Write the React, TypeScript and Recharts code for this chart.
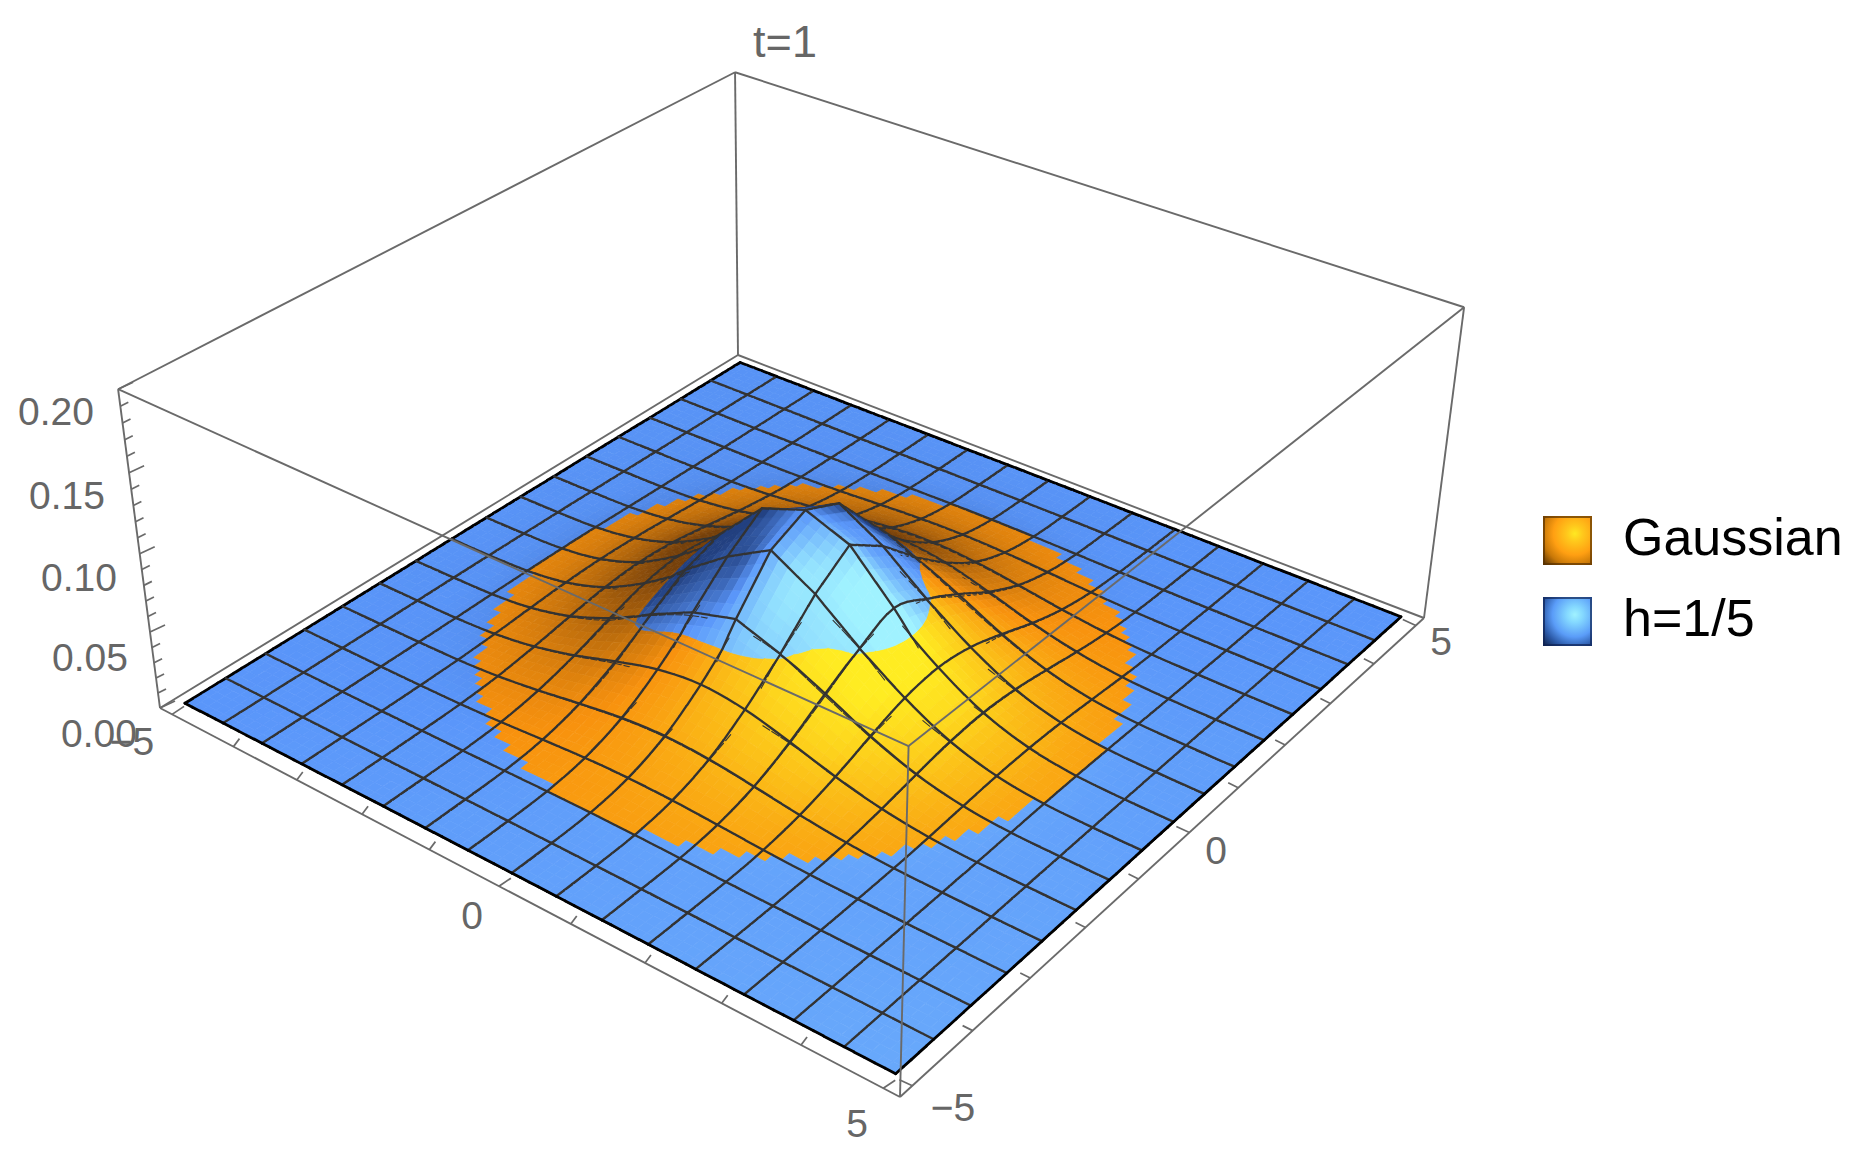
import React from "react";
import { ScatterChart, Scatter, XAxis, YAxis, Legend } from "recharts";

const W = 1867;
const H = 1154;
const FONT = "'Liberation Sans', Arial, sans-serif";

// surface heights, in units of 1e-4, on the 17 x 17 mesh (rows: x = -5..5, columns: y = -5..5)
const GAUSSIAN_E4 = [
  [0,0,0,.1,.3,.6,1,1.4,1.5,1.4,1,.6,.3,.1,0,0,0],
  [0,.1,.2,.6,1.4,2.7,4.5,6,6.6,6,4.5,2.7,1.4,.6,.2,.1,0],
  [0,.2,.7,2,4.9,9.8,16,21.3,23.5,21.3,16,9.8,4.9,2,.7,.2,0],
  [.1,.6,2,6,14.5,28.5,46.6,62.8,69.2,62.8,46.6,28.5,14.5,6,2,.6,.1],
  [.3,1.4,4.9,14.5,34.7,69.2,113,151,167,151,113,69.2,34.7,14.5,4.9,1.4,.3],
  [.6,2.7,9.8,28.5,69.2,137,224,300,331,300,224,137,69.2,28.5,9.8,2.7,.6],
  [1,4.5,16,46.6,113,224,365,488,539,488,365,224,113,46.6,16,4.5,1],
  [1.4,6,21.3,62.8,151,300,488,655,722,655,488,300,151,62.8,21.3,6,1.4],
  [1.5,6.6,23.5,69.2,167,331,539,722,796,722,539,331,167,69.2,23.5,6.6,1.5],
  [1.4,6,21.3,62.8,151,300,488,655,722,655,488,300,151,62.8,21.3,6,1.4],
  [1,4.5,16,46.6,113,224,365,488,539,488,365,224,113,46.6,16,4.5,1],
  [.6,2.7,9.8,28.5,69.2,137,224,300,331,300,224,137,69.2,28.5,9.8,2.7,.6],
  [.3,1.4,4.9,14.5,34.7,69.2,113,151,167,151,113,69.2,34.7,14.5,4.9,1.4,.3],
  [.1,.6,2,6,14.5,28.5,46.6,62.8,69.2,62.8,46.6,28.5,14.5,6,2,.6,.1],
  [0,.2,.7,2,4.9,9.8,16,21.3,23.5,21.3,16,9.8,4.9,2,.7,.2,0],
  [0,.1,.2,.6,1.4,2.7,4.5,6,6.6,6,4.5,2.7,1.4,.6,.2,.1,0],
  [0,0,0,.1,.3,.6,1,1.4,1.5,1.4,1,.6,.3,.1,0,0,0],
];
const H_FIFTH_E4 = [
  [2,2,3,3,4,5,5,6,6,6,5,5,4,3,3,2,2],
  [2,3,4,5,6,8,9.6,10.2,10.5,10.2,9.6,8,6,5,4,3,2],
  [3,4,5,7,9.7,12.5,17.2,21.6,23.5,21.6,17.2,12.5,9.7,7,5,4,3],
  [3,5,7,10.2,16,27.9,44.5,59.8,65.9,59.8,44.5,27.9,16,10.2,7,5,3],
  [4,6,9.7,16,33.5,65.9,108,145,160,145,108,65.9,33.5,16,9.7,6,4],
  [5,8,12.5,27.9,65.9,132,210,262,270,262,215,132,65.9,27.9,12.5,8,5],
  [5,9.6,17.2,44.5,108,210,372,510,590,492,350,215,108,44.5,17.2,9.6,5],
  [6,10.2,21.6,59.8,145,262,510,715,875,715,492,262,145,59.8,21.6,10.2,6],
  [6,10.5,23.5,65.9,160,270,590,875,980,875,590,270,160,65.9,23.5,10.5,6],
  [6,10.2,21.6,59.8,145,262,492,715,875,715,492,262,145,59.8,21.6,10.2,6],
  [5,9.6,17.2,44.5,108,215,350,492,590,492,350,215,108,44.5,17.2,9.6,5],
  [5,8,12.5,27.9,65.9,132,215,262,270,262,215,132,65.9,27.9,12.5,8,5],
  [4,6,9.7,16,33.5,65.9,108,145,160,145,108,65.9,33.5,16,9.7,6,4],
  [3,5,7,10.2,16,27.9,44.5,59.8,65.9,59.8,44.5,27.9,16,10.2,7,5,3],
  [3,4,5,7,9.7,12.5,17.2,21.6,23.5,21.6,17.2,12.5,9.7,7,5,4,3],
  [2,3,4,5,6,8,9.6,10.2,10.5,10.2,9.6,8,6,5,4,3,2],
  [2,2,3,3,4,5,5,6,6,6,5,5,4,3,3,2,2],
];
const Z_TICK_LABELS = ["0.00", "0.05", "0.10", "0.15", "0.20"];
const LEGEND_NAMES = ["Gaussian", "h=1/5"];

// camera calibration: where the box corners appear
const BOX_HALF = 5.2;
const BOX_TOP = 0.2;
const FLOOR = [[160, 708], [900, 1097], [1424, 618], [738, 355]]; // (x-,y-) (x+,y-) (x+,y+) (x-,y+)
const ROOF = [[117, 390], [907, 746], [1463, 308], [738, 71]];
const SURFACE_LIFT = 0.0018;

function makeCamera() {
  const [[x0, y0], [x1, y1], [x2, y2], [x3, y3]] = FLOOR;
  const dx1 = x1 - x2, dx2 = x3 - x2, sx = x0 - x1 + x2 - x3;
  const dy1 = y1 - y2, dy2 = y3 - y2, sy = y0 - y1 + y2 - y3;
  const det = dx1 * dy2 - dx2 * dy1;
  const g = (sx * dy2 - dx2 * sy) / det;
  const h = (dx1 * sy - sx * dy1) / det;
  const a = x1 - x0 + g * x1, b = x3 - x0 + h * x3, c = x0;
  const d = y1 - y0 + g * y1, e = y3 - y0 + h * y3, f = y0;
  const st = [[0, 0], [1, 0], [1, 1], [0, 1]];
  let app = 0, aqq = 0, apr = 0, aqr = 0, arr = 0, bp = 0, bq = 0, br = 0;
  st.forEach(([s, t], k) => {
    const [X, Y] = ROOF[k];
    const D = g * s + h * t + 1;
    const r1 = X * D - (a * s + b * t + c);
    const r2 = Y * D - (d * s + e * t + f);
    app += 1; aqq += 1; apr += -X; aqr += -Y; arr += X * X + Y * Y;
    bp += r1; bq += r2; br += -X * r1 - Y * r2;
  });
  const rr = (br - (apr * bp) / app - (aqr * bq) / aqq) / (arr - (apr * apr) / app - (aqr * aqr) / aqq);
  const p = (bp - apr * rr) / app;
  const q = (bq - aqr * rr) / aqq;
  return (xv: number, yv: number, zv: number): [number, number] => {
    const s = (xv + BOX_HALF) / (2 * BOX_HALF);
    const t = (yv + BOX_HALF) / (2 * BOX_HALF);
    const w = zv / BOX_TOP;
    const den = g * s + h * t + rr * w + 1;
    return [(a * s + b * t + p * w + c) / den, (d * s + e * t + q * w + f) / den];
  };
}
const project = makeCamera();

const SUB = 5;
const N = 16 * SUB;
function cr(p0: number, p1: number, p2: number, p3: number, t: number) {
  return 0.5 * (2 * p1 + (p2 - p0) * t + (2 * p0 - 5 * p1 + 4 * p2 - p3) * t * t + (3 * p1 - p0 - 3 * p2 + p3) * t * t * t);
}
function refine(table: number[][], facetedCap: boolean) {
  const at = (i: number, j: number) => table[Math.max(0, Math.min(16, i))][Math.max(0, Math.min(16, j))] / 1e4;
  const out: number[][] = [];
  for (let I = 0; I <= N; I++) {
    const row: number[] = [];
    const i = Math.min(15, Math.floor(I / SUB)), ti = I / SUB - i;
    for (let J = 0; J <= N; J++) {
      const j = Math.min(15, Math.floor(J / SUB)), tj = J / SUB - j;
      if (facetedCap && i >= 6 && i <= 9 && j >= 6 && j <= 9) {
        row.push(
          (at(i, j) * (1 - tj) + at(i, j + 1) * tj) * (1 - ti) + (at(i + 1, j) * (1 - tj) + at(i + 1, j + 1) * tj) * ti
        );
      } else {
        const c = [-1, 0, 1, 2].map((o) => cr(at(i + o, j - 1), at(i + o, j), at(i + o, j + 1), at(i + o, j + 2), tj));
        row.push(cr(c[0], c[1], c[2], c[3], ti));
      }
    }
    out.push(row);
  }
  return out;
}
const fineG = refine(GAUSSIAN_E4, false);
const fineH = refine(H_FIFTH_E4, true);
const smoothH = refine(H_FIFTH_E4, false);
const coord = (I: number) => -5 + (10 * I) / N;

type Ramp = number[][];
const ORANGE: Ramp = [[118, 64, 10], [248, 146, 14], [255, 236, 34]];
const BLUE: Ramp = [[34, 64, 128], [90, 150, 250], [160, 242, 255]];
function shade(ramp: Ramp, s: number) {
  const c = Math.max(-1, Math.min(1, s));
  const lo = ramp[1];
  const hi = c < 0 ? ramp[0] : ramp[2];
  const k = Math.abs(c);
  return `rgb(${lo.map((v, n) => Math.round(v + (hi[n] - v) * k)).join(",")})`;
}
function slopeLight(f: number[][], I: number, J: number, scale: number, darkGain: number) {
  const cl = (v: number) => Math.max(0, Math.min(N, v));
  const step = (2 * 10) / N;
  const nx = -(f[cl(I + 1)][J] - f[cl(I - 1)][J]) / step;
  const ny = -(f[I][cl(J + 1)] - f[I][cl(J - 1)]) / step;
  const s = (nx - (ny > 0 ? 0.95 : 0.3) * ny) / scale;
  return s < 0 ? s * darkGain : s;
}
function clipPositive(pts: number[][], d: number[]) {
  const out: number[][] = [];
  for (let k = 0; k < pts.length; k++) {
    const m = (k + 1) % pts.length;
    if (d[k] >= 0) out.push(pts[k]);
    if (d[k] >= 0 !== d[m] >= 0) {
      const t = d[k] / (d[k] - d[m]);
      out.push([pts[k][0] + (pts[m][0] - pts[k][0]) * t, pts[k][1] + (pts[m][1] - pts[k][1]) * t]);
    }
  }
  return out;
}

// the surfaces, one record per small patch, back to front
const patches: any[] = [];
const TOL = 0.0025;
function meshEdge(lines: any[], I1: number, J1: number, I2: number, J2: number, ox: number, oy: number, outer: boolean) {
  [fineG, fineH].forEach((f, n) => {
    const other = n === 0 ? fineH : fineG;
    const d1 = f[I1][J1] - other[I1][J1], d2 = f[I2][J2] - other[I2][J2];
    const top = d1 + d2 >= 0;
    if (!top && d1 + d2 < -2 * TOL) return;
    const a = project(coord(I1), coord(J1), f[I1][J1] + SURFACE_LIFT);
    const b = project(coord(I2), coord(J2), f[I2][J2] + SURFACE_LIFT);
    lines.push({
      p: `M${(a[0] - ox).toFixed(1)} ${(a[1] - oy).toFixed(1)}L${(b[0] - ox).toFixed(1)} ${(b[1] - oy).toFixed(1)}`,
      c: outer ? "#000" : "#333",
      w: top ? (outer ? 2.8 : 2.3) : 1.1,
    });
  });
}
for (let I = 0; I < N; I++) {
  for (let J = N - 1; J >= 0; J--) {
    const corners = [[I, J], [I + 1, J], [I + 1, J + 1], [I, J + 1]];
    const [px, py] = project(coord(I + 0.5), coord(J + 0.5), (fineG[I][J] + fineH[I][J]) / 2);
    const polys: any[] = [];
    const cxv = coord(I + 0.5), cyv = coord(J + 0.5);
    const outerRing = cxv * cxv + cyv * cyv > 9;
    const centreDiff =
      corners.reduce((acc, [a, b]) => acc + fineG[a][b] - fineH[a][b], 0) / 4;
    [
      { f: fineG, o: fineH, ramp: ORANGE, light: fineG, scale: 0.034, gain: 1.15, sign: 1 },
      { f: fineH, o: fineG, ramp: BLUE, light: smoothH, scale: 0.05, gain: 1.8, sign: -1 },
    ].forEach(({ f, o, ramp, light, scale, gain, sign }) => {
      const d = corners.map(([a, b]) => f[a][b] - o[a][b]);
      if (outerRing) {
        if (centreDiff * sign < 0) return;
      } else if (d.every((v) => v < 0)) return;
      const pts = corners.map(([a, b]) => project(coord(a), coord(b), f[a][b] + SURFACE_LIFT));
      const clipped = outerRing ? pts : clipPositive(pts, d);
      const pos = (I - J) / N;
      const s =
        corners.reduce((acc, [a, b]) => acc + slopeLight(light, a, b, scale, gain), 0) / 4 +
        (pos > 0 ? 0.2 * pos : 0.03 * pos);
      polys.push({
        pts: clipped.map((q) => `${(q[0] - px).toFixed(1)},${(q[1] - py).toFixed(1)}`).join(" "),
        fill: shade(ramp, s),
      });
    });
    const lines: any[] = [];
    if (I % SUB === 0) meshEdge(lines, I, J, I, J + 1, px, py, I === 0);
    if ((J + 1) % SUB === 0) meshEdge(lines, I, J + 1, I + 1, J + 1, px, py, J + 1 === N);
    if (I + 1 === N) meshEdge(lines, I + 1, J, I + 1, J + 1, px, py, true);
    if (J === 0) meshEdge(lines, I, J, I + 1, J, px, py, true);
    patches.push({ px, py, polys, lines });
  }
}

// box frame
const segment = (a: [number, number], b: [number, number], w = 1.9) => ({ px: a[0], py: a[1], dx: b[0] - a[0], dy: b[1] - a[1], w });
const C = BOX_HALF;
const backFrame = [
  segment(project(-C, -C, 0), project(-C, C, 0)),
  segment(project(-C, C, 0), project(C, C, 0)),
  segment(project(-C, C, 0), project(-C, C, BOX_TOP)),
  segment(project(-C, -C, BOX_TOP), project(-C, C, BOX_TOP)),
  segment(project(-C, C, BOX_TOP), project(C, C, BOX_TOP)),
  segment(project(-C, -C, 0), project(-C, -C, BOX_TOP)),
  segment(project(C, C, 0), project(C, C, BOX_TOP)),
];
const frontFrame = [
  segment(project(-C, -C, 0), project(C, -C, 0)),
  segment(project(C, -C, 0), project(C, C, 0)),
  segment(project(C, -C, 0), project(C, -C, BOX_TOP)),
  segment(project(-C, -C, BOX_TOP), project(C, -C, BOX_TOP)),
  segment(project(C, -C, BOX_TOP), project(C, C, BOX_TOP)),
];
const AXIS_STOPS = [-5, -4, -3, -2, -1, 0, 1, 2, 3, 4, 5];
const Z_STOPS = [0, 0.01, 0.02, 0.03, 0.04, 0.05, 0.06, 0.07, 0.08, 0.09, 0.1, 0.11, 0.12, 0.13, 0.14, 0.15, 0.16, 0.17, 0.18, 0.19, 0.2];
const tick = (a: [number, number], ox: number, oy: number) => segment(a, [a[0] + ox, a[1] + oy], 1.7);
const ticks = [
  ...AXIS_STOPS.map((v) => {
    const major = v % 5 === 0;
    return tick(project(v, -C, 0), major ? 12 : 6, major ? -8 : -8);
  }),
  ...AXIS_STOPS.map((v) => {
    const major = v % 5 === 0;
    return tick(project(C, v, 0), major ? -13 : -10, major ? -6 : -5);
  }),
  ...Z_STOPS.map((v, k) => {
    const major = k % 5 === 0;
    return tick(project(-C, -C, v), major ? 15 : 8, major ? -7 : -4);
  }),
];

const tickLabels = [
  { px: 99, py: 733, text: Z_TICK_LABELS[0], size: 39 },
  { px: 90, py: 657, text: Z_TICK_LABELS[1], size: 39 },
  { px: 79, py: 577, text: Z_TICK_LABELS[2], size: 39 },
  { px: 67, py: 495, text: Z_TICK_LABELS[3], size: 39 },
  { px: 56, py: 411, text: Z_TICK_LABELS[4], size: 39 },
  { px: 132, py: 741, text: "\u22125", size: 39 },
  { px: 472, py: 915, text: "0", size: 39 },
  { px: 857, py: 1123, text: "5", size: 39 },
  { px: 953, py: 1107, text: "\u22125", size: 39 },
  { px: 1216, py: 850, text: "0", size: 39 },
  { px: 1441, py: 641, text: "5", size: 39 },
  { px: 785, py: 41, text: "t=1", size: 45 },
];

const PatchShape = (p: any) => {
  const d = p.payload;
  return (
    <g transform={`translate(${p.cx},${p.cy})`}>
      {d.polys.map((q: any, k: number) => (
        <polygon key={k} points={q.pts} fill={q.fill} stroke={q.fill} strokeWidth={0.7} strokeLinejoin="round" />
      ))}
      {d.lines.map((l: any, k: number) => (
        <path key={"l" + k} d={l.p} stroke={l.c} strokeWidth={l.w} fill="none" strokeLinecap="round" />
      ))}
    </g>
  );
};
const SegmentShape = (p: any) => (
  <line x1={p.cx} y1={p.cy} x2={p.cx + p.payload.dx} y2={p.cy + p.payload.dy} stroke="#6a6a6a" strokeWidth={p.payload.w} />
);
const LabelShape = (p: any) => (
  <text x={p.cx} y={p.cy} textAnchor="middle" dominantBaseline="central" fontFamily={FONT} fontSize={p.payload.size} fill="#666">
    {p.payload.text}
  </text>
);

const SWATCHES = [
  "radial-gradient(circle at 65% 36%, #ffe822 0%, #ffc81c 18%, #ff9f12 48%, #c87808 72%, #4a2a02 100%)",
  "radial-gradient(circle at 65% 36%, #a0f2ff 0%, #84d8ff 18%, #5a9cf8 50%, #2c5aa8 74%, #0c1c40 100%)",
];
const SWATCH_EDGES = ["rgba(90,50,0,0.7)", "rgba(15,35,85,0.7)"];
const LegendBox = () => (
  <div style={{ fontFamily: FONT, fontSize: 52, color: "#000", lineHeight: "49px" }}>
    {LEGEND_NAMES.map((name, k) => (
      <div key={name} style={{ position: "absolute", left: 0, top: k * 81, display: "flex", alignItems: "center", whiteSpace: "nowrap" }}>
        <span style={{ width: 49, height: 49, display: "inline-block", background: SWATCHES[k], boxShadow: `inset 0 0 0 2px ${SWATCH_EDGES[k]}` }} />
        <span style={{ marginLeft: 31, position: "relative", top: -3 }}>{name}</span>
      </div>
    ))}
  </div>
);

export default function App() {
  return (
    <div style={{ position: "absolute", left: 0, top: 0, width: W, height: H, background: "#fff" }}>
      <ScatterChart width={W} height={H} margin={{ top: 0, right: 0, bottom: 0, left: 0 }}>
        <XAxis type="number" dataKey="px" domain={[0, W]} hide allowDataOverflow />
        <YAxis type="number" dataKey="py" domain={[0, H]} reversed hide allowDataOverflow />
        <Scatter name="frame-back" data={backFrame} shape={SegmentShape} isAnimationActive={false} />
        <Scatter name="surfaces" data={patches} shape={PatchShape} isAnimationActive={false} />
        <Scatter name="frame-front" data={[...frontFrame, ...ticks]} shape={SegmentShape} isAnimationActive={false} />
        <Scatter name="labels" data={tickLabels} shape={LabelShape} isAnimationActive={false} />
        <Legend
          layout="vertical"
          align="center"
          verticalAlign="middle"
          content={LegendBox}
          wrapperStyle={{ position: "absolute", left: 1543, top: 516, width: 320, height: 140 }}
        />
      </ScatterChart>
    </div>
  );
}
